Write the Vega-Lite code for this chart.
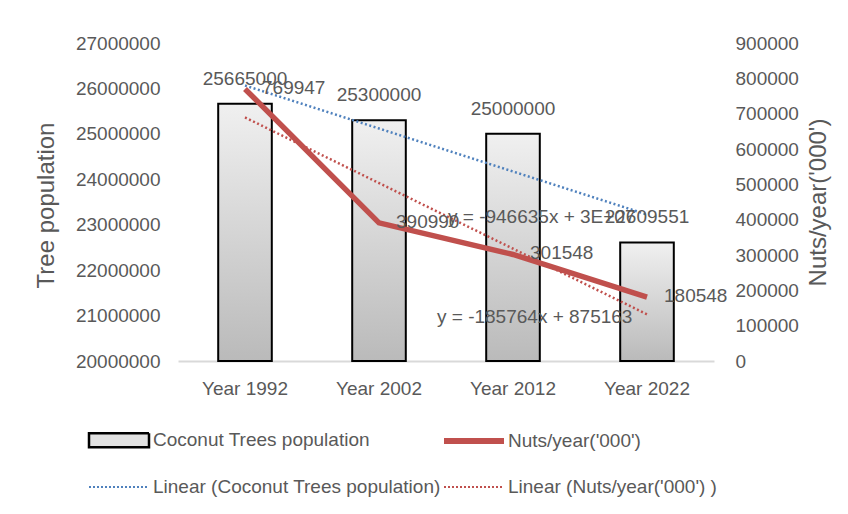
{
  "$schema": "https://vega.github.io/schema/vega-lite/v6.json",
  "width": 536,
  "height": 318,
  "autosize": {"type": "none"},
  "padding": {"left": 178, "top": 43, "right": 134, "bottom": 153},
  "background": "white",
  "config": {
    "view": {"stroke": null},
    "font": "Liberation Sans",
    "axis": {
      "labelColor": "#595959",
      "labelFontSize": 19,
      "labelFont": "Liberation Sans",
      "labelOverlap": false,
      "titleColor": "#595959",
      "titleFontSize": 24,
      "titleFontWeight": "normal",
      "titleFont": "Liberation Sans",
      "domain": false,
      "ticks": false,
      "grid": false
    },
    "axisRight": {"labelOverlap": false, "labelSeparation": 0},
    "legend": {
      "labelFont": "Liberation Sans",
      "labelFontSize": 19,
      "labelColor": "#595959",
      "labelLimit": 400,
      "symbolSize": 3600,
      "labelOffset": 1,
      "columnPadding": -17,
      "rowPadding": 3,
      "padding": 0
    }
  },
  "datasets": {
    "main": [
      {"year": "Year 1992", "trees": 25665000, "nuts": 769947, "trend_trees": 26063590, "trend_nuts": 689399},
      {"year": "Year 2002", "trees": 25300000, "nuts": 390990, "trend_trees": 25116955, "trend_nuts": 503635},
      {"year": "Year 2012", "trees": 25000000, "nuts": 301548, "trend_trees": 24170320, "trend_nuts": 317871},
      {"year": "Year 2022", "trees": 22609551, "nuts": 180548, "trend_trees": 23223685, "trend_nuts": 132107}
    ],
    "eq_trees": [{"year": "Year 2012", "label": "y = -946635x + 3E+07", "pos": 23170000}],
    "eq_nuts": [{"year": "Year 2012", "label": "y = -185764x + 875163", "pos": 124500}],
    "legend_items": []
  },
  "layer": [
    {
      "layer": [
        {
          "data": {"name": "main"},
          "mark": {
            "type": "bar",
            "stroke": "#000000",
            "strokeWidth": 2,
            "color": {
              "gradient": "linear",
              "x1": 0, "y1": 0, "x2": 0, "y2": 1,
              "stops": [
                {"offset": 0, "color": "#f0f0f0"},
                {"offset": 1, "color": "#bababa"}
              ]
            }
          },
          "encoding": {
            "x": {
              "field": "year",
              "type": "nominal",
              "scale": {"domain": ["Year 1992", "Year 2002", "Year 2012", "Year 2022"], "paddingInner": 0.6, "paddingOuter": 0.3},
              "axis": {"title": null, "labelAngle": 0, "domain": true, "domainColor": "#d9d9d9", "domainWidth": 2, "labelPadding": 18}
            },
            "y": {
              "field": "trees",
              "type": "quantitative",
              "title": "Tree population",
              "scale": {"domain": [20000000, 27000000], "zero": false, "nice": false},
              "axis": {
                "orient": "left",
                "values": [20000000, 21000000, 22000000, 23000000, 24000000, 25000000, 26000000, 27000000],
                "format": "d",
                "labelOverlap": false,
                "labelPadding": 18,
                "titleAngle": 270,
                "titleBaseline": "alphabetic",
                "titleX": -125,
                "titleY": 162
              }
            },
            "y2": {"datum": 20000000}
          }
        },
        {
          "data": {"name": "main"},
          "mark": {"type": "line", "color": "#4f81bd", "strokeWidth": 2.5, "strokeDash": [2, 2.5]},
          "encoding": {
            "x": {"field": "year", "type": "nominal"},
            "y": {"field": "trend_trees", "type": "quantitative", "title": "Tree population"}
          }
        },
        {
          "data": {"name": "main"},
          "mark": {"type": "text", "fontSize": 19, "color": "#595959", "baseline": "middle", "dy": -25},
          "encoding": {
            "x": {"field": "year", "type": "nominal"},
            "y": {"field": "trees", "type": "quantitative", "title": "Tree population"},
            "text": {"field": "trees", "type": "quantitative", "format": "d"}
          }
        },
        {
          "data": {"name": "eq_trees"},
          "mark": {"type": "text", "fontSize": 19, "color": "#595959", "baseline": "middle", "align": "left", "dx": -65},
          "encoding": {
            "x": {"field": "year", "type": "nominal"},
            "y": {"field": "pos", "type": "quantitative", "title": "Tree population"},
            "text": {"field": "label", "type": "nominal"}
          }
        }
      ]
    },
    {
      "layer": [
        {
          "data": {"name": "main"},
          "mark": {"type": "line", "color": "#c0504d", "strokeWidth": 2.5, "strokeDash": [2, 2.5]},
          "encoding": {
            "x": {"field": "year", "type": "nominal"},
            "y": {
              "field": "trend_nuts",
              "type": "quantitative",
              "title": "Nuts/year('000')",
              "scale": {"domain": [0, 900000], "nice": false},
              "axis": {
                "orient": "right",
                "values": [0, 100000, 200000, 300000, 400000, 500000, 600000, 700000, 800000, 900000],
                "format": "d",
                "labelOverlap": false,
                "labelPadding": 21,
                "titleAngle": 270,
                "titleBaseline": "alphabetic",
                "titleX": 111,
                "titleY": 159
              }
            }
          }
        },
        {
          "data": {"name": "main"},
          "mark": {"type": "line", "color": "#c0504d", "strokeWidth": 5.5},
          "encoding": {
            "x": {"field": "year", "type": "nominal"},
            "y": {
              "field": "nuts", "type": "quantitative", "title": "Nuts/year('000')",
              "axis": {
                "orient": "right",
                "values": [0, 100000, 200000, 300000, 400000, 500000, 600000, 700000, 800000, 900000],
                "format": "d",
                "labelOverlap": false,
                "labelPadding": 21,
                "titleAngle": 270,
                "titleBaseline": "alphabetic",
                "titleX": 111,
                "titleY": 159
              }
            }
          }
        },
        {
          "data": {"name": "main"},
          "mark": {"type": "text", "fontSize": 19, "color": "#595959", "baseline": "middle", "align": "left", "dx": 17, "dy": -1},
          "encoding": {
            "x": {"field": "year", "type": "nominal"},
            "y": {
              "field": "nuts", "type": "quantitative", "title": "Nuts/year('000')",
              "axis": {
                "orient": "right",
                "values": [0, 100000, 200000, 300000, 400000, 500000, 600000, 700000, 800000, 900000],
                "format": "d",
                "labelOverlap": false,
                "labelPadding": 21,
                "titleAngle": 270,
                "titleBaseline": "alphabetic",
                "titleX": 111,
                "titleY": 159
              }
            },
            "text": {"field": "nuts", "type": "quantitative", "format": "d"}
          }
        },
        {
          "data": {"name": "eq_nuts"},
          "mark": {"type": "text", "fontSize": 19, "color": "#595959", "baseline": "middle", "align": "left", "dx": -76},
          "encoding": {
            "x": {"field": "year", "type": "nominal"},
            "y": {
              "field": "pos", "type": "quantitative", "title": "Nuts/year('000')",
              "axis": {
                "orient": "right",
                "values": [0, 100000, 200000, 300000, 400000, 500000, 600000, 700000, 800000, 900000],
                "format": "d",
                "labelOverlap": false,
                "labelPadding": 21,
                "titleAngle": 270,
                "titleBaseline": "alphabetic",
                "titleX": 111,
                "titleY": 159
              }
            },
            "text": {"field": "label", "type": "nominal"}
          }
        }
      ]
    },
    {
      "data": {"name": "legend_items"},
      "mark": {"type": "point", "filled": false, "opacity": 1},
      "encoding": {
        "shape": {
          "field": "series", "type": "nominal",
          "scale": {
            "domain": ["Coconut Trees population", "Nuts/year('000')", "Linear (Coconut Trees population)", "Linear (Nuts/year('000') )"],
            "range": ["M-1,-0.233H1V0.233H-1Z", "M-1,0H1", "M-1,0H1", "M-1,0H1"]
          },
          "legend": {"title": null, "orient": "none", "legendX": -92, "legendY": 365, "columns": 2, "direction": "horizontal"}
        },
        "fill": {
          "field": "series", "type": "nominal",
          "scale": {
            "domain": ["Coconut Trees population", "Nuts/year('000')", "Linear (Coconut Trees population)", "Linear (Nuts/year('000') )"],
            "range": ["#e2e2e2", "transparent", "transparent", "transparent"]
          },
          "legend": {"title": null, "orient": "none", "legendX": -92, "legendY": 365, "columns": 2, "direction": "horizontal"}
        },
        "stroke": {
          "field": "series", "type": "nominal",
          "scale": {
            "domain": ["Coconut Trees population", "Nuts/year('000')", "Linear (Coconut Trees population)", "Linear (Nuts/year('000') )"],
            "range": ["#000000", "#c0504d", "#4f81bd", "#c0504d"]
          },
          "legend": {"title": null, "orient": "none", "legendX": -92, "legendY": 365, "columns": 2, "direction": "horizontal"}
        },
        "strokeDash": {
          "field": "series", "type": "nominal",
          "scale": {
            "domain": ["Coconut Trees population", "Nuts/year('000')", "Linear (Coconut Trees population)", "Linear (Nuts/year('000') )"],
            "range": [[1, 0], [1, 0], [2, 2], [2, 2]]
          },
          "legend": {"title": null, "orient": "none", "legendX": -92, "legendY": 365, "columns": 2, "direction": "horizontal"}
        },
        "strokeWidth": {
          "field": "series", "type": "nominal",
          "scale": {
            "type": "ordinal",
            "domain": ["Coconut Trees population", "Nuts/year('000')", "Linear (Coconut Trees population)", "Linear (Nuts/year('000') )"],
            "range": [2.5, 6, 2, 2]
          },
          "legend": {"title": null, "orient": "none", "legendX": -92, "legendY": 365, "columns": 2, "direction": "horizontal"}
        }
      }
    }
  ],
  "resolve": {"scale": {"y": "independent"}}
}
